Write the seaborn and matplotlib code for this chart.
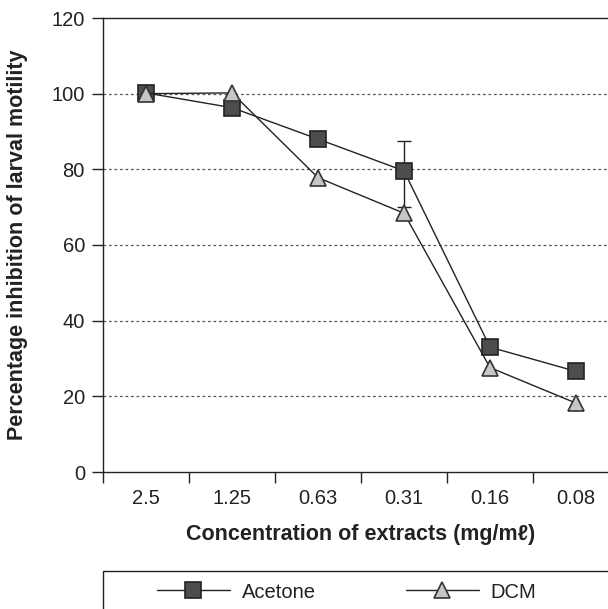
import pandas as pd
import seaborn as sns
import numpy as np
import matplotlib.pyplot as plt
from matplotlib.lines import Line2D
from matplotlib.patches import Rectangle

# values
concentrations = ["2.5", "1.25", "0.63", "0.31", "0.16", "0.08"]
acetone = [100.2, 96.3, 88.0, 79.6, 33.0, 26.6]
dcm = [100.0, 100.2, 77.8, 68.4, 27.6, 18.2]
# error bar at 0.31 (acetone only)
acetone_err_low = [0, 0, 0, 9.5, 0, 0]
acetone_err_high = [0, 0, 0, 8.0, 0, 0]

df = pd.DataFrame({
    "conc": concentrations * 2,
    "inhib": acetone + dcm,
    "extract": ["Acetone"] * 6 + ["DCM"] * 6,
})

sns.set_style("ticks")
plt.rcParams['font.family'] = ['Liberation Sans', 'DejaVu Sans']

fig = plt.figure(figsize=(6.08, 6.09), dpi=100)
ax = fig.add_axes([103 / 608, 1 - 472 / 609, 516 / 608, 454 / 609])

#grid lines first so they sit under the data
for yv in [20, 40, 60, 80, 100]:
    ax.axhline(yv, color="#555555", lw=0.9, ls=(0, (2.2, 2.2)), zorder=0)

ax.errorbar(concentrations, acetone, yerr=[acetone_err_low, acetone_err_high],
            fmt="none", ecolor="#222222", elinewidth=1, capsize=5, capthick=1, zorder=1)

styles = {
    "Acetone": dict(marker="s", markerfacecolor="#4d4d4d", markeredgecolor="#222222",
                    markersize=12),
    "DCM": dict(marker="^", markerfacecolor="#c6c6c6", markeredgecolor="#333333",
                markersize=12),
}
for name, sub in df.groupby("extract", sort=False):
    sns.lineplot(data=sub, x="conc", y="inhib", ax=ax, color="#222222", linewidth=1,
                 markeredgewidth=1.2, zorder=3, **styles[name])

ax.set_xlim(-0.5, 5.5)
ax.set_ylim(0, 120)
ax.set_yticks([0, 20, 40, 60, 80, 100, 120])
ax.set_xticks(np.arange(-0.5, 6, 1), minor=False)
ax.set_xticklabels([])
ax.set_xticks(np.arange(6), minor=True)
ax.set_xticklabels(concentrations, minor=True)
ax.tick_params(axis="x", which="major", length=8, width=1, color="#222222", direction="out")
ax.tick_params(axis="x", which="minor", length=0, pad=12, labelsize=14.5, labelcolor="#222222")
ax.tick_params(axis="y", length=8, width=1, color="#222222", pad=5, labelsize=14.5,
               labelcolor="#222222")

for s in ax.spines.values():
    s.set_color("#222222")
    s.set_linewidth(1)

ax.set_xlabel("Concentration of extracts (mg/mℓ)", fontsize=15.5, fontweight="bold",
              color="#222222", labelpad=12)
ax.set_ylabel("Percentage inhibition of larval motility", fontsize=15.5, fontweight="bold",
              color="#222222", labelpad=17)

# legend box sits below the axes
fig.patches.append(Rectangle((103 / 608, -0.05), 0.9, (609 - 571) / 609 + 0.05,
                             transform=fig.transFigure, fill=False, edgecolor="#222222",
                             lw=1))
handles = [
    Line2D([], [], color="#222222", lw=1, markeredgewidth=1.2, **styles["Acetone"]),
    Line2D([], [], color="#222222", lw=1, markeredgewidth=1.2, **styles["DCM"]),
]
fig.legend(handles, ["Acetone", "DCM"], loc="center left",
           bbox_to_anchor=(157 / 608, 1 - 592 / 609), ncol=2, frameon=False,
           fontsize=14.5, handlelength=3.6, handletextpad=0.6, columnspacing=4.5,
           borderpad=0, borderaxespad=0, labelcolor="#222222")

fig.savefig("out.png", dpi=100)
